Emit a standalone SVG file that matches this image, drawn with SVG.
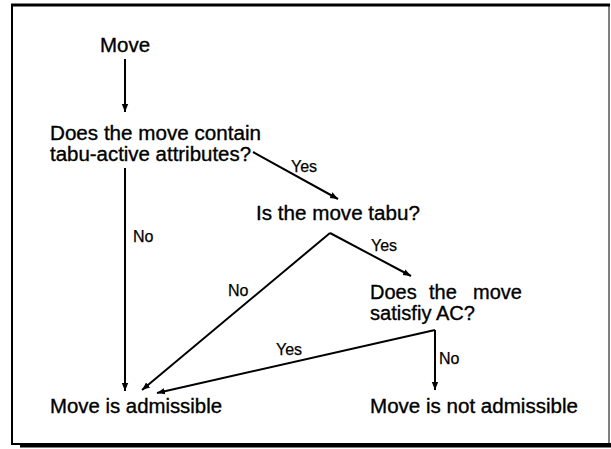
<svg xmlns="http://www.w3.org/2000/svg" width="611" height="449" viewBox="0 0 611 449">
<style>
.t{font-family:"Liberation Sans",Arial,Helvetica,sans-serif;font-size:20px;fill:#000;stroke:#000;stroke-width:0.35}
.l{font-family:"Liberation Sans",Arial,Helvetica,sans-serif;font-size:16px;fill:#000;stroke:#000;stroke-width:0.25}
.c{stroke:#000;stroke-width:2;fill:none}
.a{stroke:#000;stroke-width:2;fill:none;marker-end:url(#ah)}
</style>
<defs>
<marker id="ah" viewBox="0 0 10 10" refX="10" refY="5" markerWidth="4" markerHeight="4" orient="auto" markerUnits="strokeWidth">
<path d="M0,1 L10,5 L0,9 z" fill="#000"/>
</marker>
</defs>
<g id="frame">
<line x1="11" y1="5" x2="610" y2="5" stroke="#000" stroke-width="3"/>
<line x1="12" y1="4" x2="12" y2="445" stroke="#000" stroke-width="2"/>
<line x1="609" y1="4" x2="609" y2="445" stroke="#000" stroke-width="1"/>
<line x1="12" y1="444" x2="611" y2="444" stroke="#000" stroke-width="2"/>
<line x1="20" y1="446" x2="611" y2="446" stroke="#000" stroke-width="3"/>
</g>
<g id="connectors">
<line class="a" x1="125" y1="59" x2="125" y2="112"/>
<polyline class="a" points="253,152 338,199"/>
<line class="a" x1="125" y1="168" x2="125" y2="391"/>
<polyline class="a" points="330,233 142,390"/>
<polyline class="a" points="330,233 411,276"/>
<polyline class="a" points="435,330 157,393"/>
<line class="a" x1="435" y1="330" x2="435" y2="390"/>
<text class="l" x="291" y="172">Yes</text>
<text class="l" x="133" y="242">No</text>
<text class="l" x="371" y="251">Yes</text>
<text class="l" x="228" y="296">No</text>
<text class="l" x="276" y="355">Yes</text>
<text class="l" x="439" y="364">No</text>
</g>
<g id="move"><text class="t" x="100" y="52" textLength="50" lengthAdjust="spacingAndGlyphs">Move</text></g>
<g id="q1">
<text class="t" x="50" y="140" textLength="211" lengthAdjust="spacingAndGlyphs">Does the move contain</text>
<text class="t" x="50" y="161" textLength="201" lengthAdjust="spacingAndGlyphs">tabu-active attributes?</text>
</g>
<g id="q2"><text class="t" x="256" y="220" textLength="164" lengthAdjust="spacingAndGlyphs">Is the move tabu?</text></g>
<g id="q3">
<text class="t" y="299"><tspan x="370">Does</tspan><tspan x="429">the</tspan><tspan x="473">move</tspan></text>
<text class="t" x="370" y="320" textLength="105" lengthAdjust="spacingAndGlyphs">satisfiy AC?</text>
</g>
<g id="admissible"><text class="t" x="50" y="413" textLength="172" lengthAdjust="spacingAndGlyphs">Move is admissible</text></g>
<g id="notadmissible"><text class="t" x="370" y="413" textLength="208" lengthAdjust="spacingAndGlyphs">Move is not admissible</text></g>
</svg>
